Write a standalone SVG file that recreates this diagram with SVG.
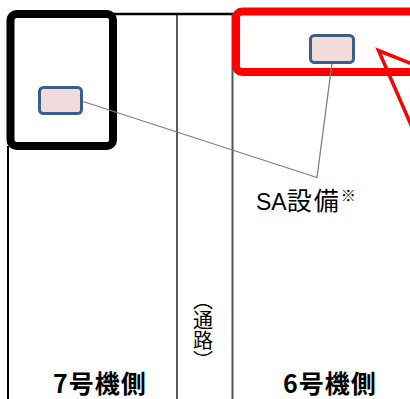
<svg xmlns="http://www.w3.org/2000/svg" width="410" height="399" viewBox="0 0 410 399">
<style>
.lbl{font-family:"Noto Sans CJK JP","Noto Sans",sans-serif;fill:#000}
.dev{fill:#f2dcdb;stroke:#3b5d8c;stroke-width:3}
.conn{stroke:#808080;stroke-width:1.3;fill:none}
</style>
<rect width="410" height="399" fill="#fff"/>
<g id="walls">
<line x1="8" y1="146" x2="8" y2="399" stroke="#000" stroke-width="2"/>
<line x1="113" y1="14" x2="236" y2="14" stroke="#000" stroke-width="2.5"/>
<line x1="177" y1="14" x2="177" y2="399" stroke="#000" stroke-width="1.3"/>
<line x1="232.5" y1="14" x2="232.5" y2="399" stroke="#555" stroke-width="2"/>
</g>
<g id="unit7">
<rect x="10.5" y="14" width="102.5" height="132" rx="6" fill="none" stroke="#000" stroke-width="8"/>
</g>
<g id="unit6">
<rect x="236" y="11.5" width="190" height="60.5" rx="6" fill="none" stroke="#f00" stroke-width="8"/>
</g>
<g id="callout">
<polyline points="425,69 378.5,50.5 415,134" fill="none" stroke="#f00" stroke-width="3.5" stroke-linejoin="miter"/>
</g>
<g id="connectors">
<polyline class="conn" points="83,101.5 317,177.5 332,63"/>
</g>
<g id="sa7">
<rect class="dev" x="39.5" y="87.5" width="42" height="26" rx="4"/>
</g>
<g id="sa6">
<rect class="dev" x="310.5" y="35.5" width="43" height="27" rx="4"/>
</g>
<g id="labels">
<text class="lbl" x="256" y="209.5" font-size="24"><tspan font-family="Liberation Sans, sans-serif" font-size="23">SA</tspan><tspan font-size="25" letter-spacing="2">設備</tspan><tspan font-size="15" dy="-9">※</tspan></text>
<text class="lbl" x="53" y="393" font-size="25" font-weight="bold" letter-spacing="1">7号機側</text>
<text class="lbl" x="283" y="393" font-size="25" font-weight="bold" letter-spacing="1">6号機側</text>
<text class="lbl" x="203" y="290" font-size="20" style="writing-mode:vertical-rl">（通路）</text>
</g>
</svg>
